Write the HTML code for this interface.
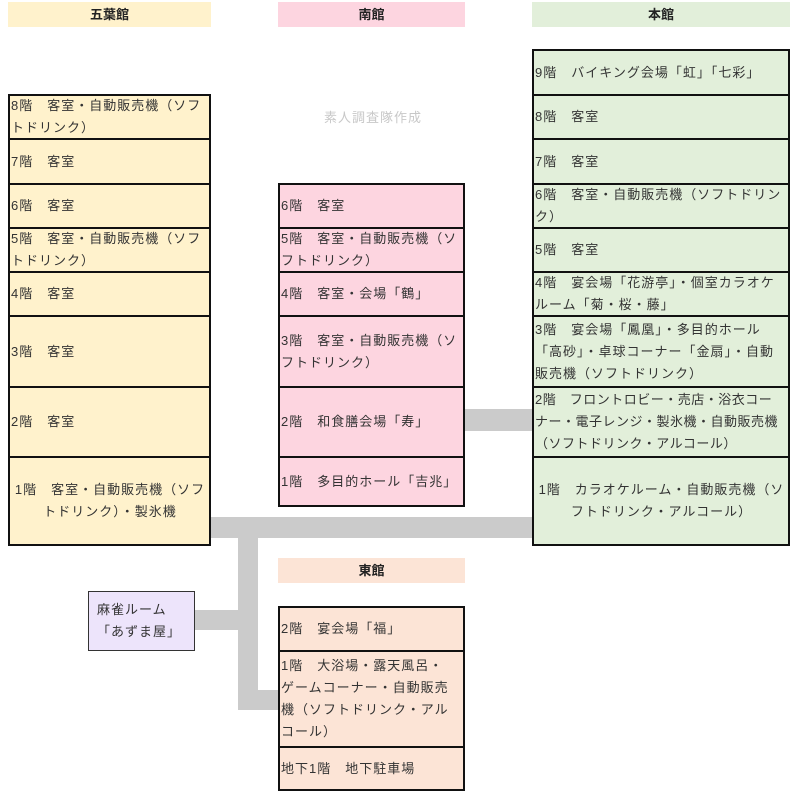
<!DOCTYPE html>
<html><head><meta charset="utf-8"><style>
body{margin:0;width:798px;height:798px;background:#fff;position:relative;overflow:hidden;font-family:"Liberation Sans","Noto Sans CJK JP",sans-serif;font-size:13px;color:#333;letter-spacing:1px}
.h{position:absolute;height:25px;line-height:25px;text-align:center;font-weight:bold;color:#222;font-size:13px;letter-spacing:0}
.c{position:absolute;box-sizing:border-box;border:2px solid #111;display:flex;align-items:center;padding:0 0 0 1px;line-height:22px;white-space:nowrap}
.cc{justify-content:center;text-align:left}
.y{background:#fff2cc}.p{background:#fdd5e0}.g{background:#e2efda}.o{background:#fce4d6}
.l{position:absolute;background:#cbcbcb}
</style></head><body>
<div class="h" style="left:8px;top:2px;width:203px;background:#fff2cc">五葉館</div>
<div class="h" style="left:278px;top:2px;width:187px;background:#fdd5e0">南館</div>
<div class="h" style="left:532px;top:2px;width:258px;background:#e2efda">本館</div>
<div class="h" style="left:278px;top:558px;width:187px;background:#fce4d6">東館</div>
<div style="position:absolute;left:324px;top:107px;color:#c8c8c8;font-size:13px">素人調査隊作成</div>

<div class="l" style="left:211px;top:517px;width:321px;height:21px"></div>
<div class="l" style="left:238px;top:538px;width:20px;height:172px"></div>
<div class="l" style="left:258px;top:690px;width:20px;height:20px"></div>
<div class="l" style="left:195px;top:610px;width:43px;height:20px"></div>
<div class="l" style="left:465px;top:409px;width:67px;height:22px"></div>

<div class="c y" style="left:8px;top:94px;width:203px;height:46px">8階　客室・自動販売機（ソフ<br>トドリンク）</div>
<div class="c y" style="left:8px;top:138px;width:203px;height:47px">7階　客室</div>
<div class="c y" style="left:8px;top:183px;width:203px;height:46px">6階　客室</div>
<div class="c y" style="left:8px;top:227px;width:203px;height:46px">5階　客室・自動販売機（ソフ<br>トドリンク）</div>
<div class="c y" style="left:8px;top:271px;width:203px;height:46px">4階　客室</div>
<div class="c y" style="left:8px;top:315px;width:203px;height:73px">3階　客室</div>
<div class="c y" style="left:8px;top:386px;width:203px;height:72px">2階　客室</div>
<div class="c y cc" style="left:8px;top:456px;width:203px;height:90px;text-align:center">1階　客室・自動販売機（ソフ<br>トドリンク）・製氷機</div>

<div class="c p" style="left:278px;top:183px;width:187px;height:46px">6階　客室</div>
<div class="c p" style="left:278px;top:227px;width:187px;height:46px">5階　客室・自動販売機（ソ<br>フトドリンク）</div>
<div class="c p" style="left:278px;top:271px;width:187px;height:46px">4階　客室・会場「鶴」</div>
<div class="c p" style="left:278px;top:315px;width:187px;height:73px">3階　客室・自動販売機（ソ<br>フトドリンク）</div>
<div class="c p" style="left:278px;top:386px;width:187px;height:72px">2階　和食膳会場「寿」</div>
<div class="c p" style="left:278px;top:456px;width:187px;height:51px">1階　多目的ホール「吉兆」</div>

<div class="c g" style="left:532px;top:49px;width:258px;height:47px">9階　バイキング会場「虹」「七彩」</div>
<div class="c g" style="left:532px;top:94px;width:258px;height:46px">8階　客室</div>
<div class="c g" style="left:532px;top:138px;width:258px;height:47px">7階　客室</div>
<div class="c g" style="left:532px;top:183px;width:258px;height:46px">6階　客室・自動販売機（ソフトドリン<br>ク）</div>
<div class="c g" style="left:532px;top:227px;width:258px;height:46px">5階　客室</div>
<div class="c g" style="left:532px;top:271px;width:258px;height:46px">4階　宴会場「花游亭」・個室カラオケ<br>ルーム「菊・桜・藤」</div>
<div class="c g" style="left:532px;top:315px;width:258px;height:73px">3階　宴会場「鳳凰」・多目的ホール<br>「高砂」・卓球コーナー「金扇」・自動<br>販売機（ソフトドリンク）</div>
<div class="c g" style="left:532px;top:386px;width:258px;height:72px;letter-spacing:0.5px">2階　フロントロビー・売店・浴衣コー<br>ナー・電子レンジ・製氷機・自動販売機<br>（ソフトドリンク・アルコール）</div>
<div class="c g cc" style="left:532px;top:456px;width:258px;height:90px;text-align:center">1階　カラオケルーム・自動販売機（ソ<br>フトドリンク・アルコール）</div>

<div class="c o" style="left:278px;top:606px;width:187px;height:46px">2階　宴会場「福」</div>
<div class="c o" style="left:278px;top:650px;width:187px;height:98px">1階　大浴場・露天風呂・<br>ゲームコーナー・自動販売<br>機（ソフトドリンク・アル<br>コール）</div>
<div class="c o" style="left:278px;top:746px;width:187px;height:45px">地下1階　地下駐車場</div>

<div class="c" style="left:88px;top:591px;width:107px;height:60px;border:1px solid #333;background:#ede4fb;padding-left:8px">麻雀ルーム<br>「あずま屋」</div>
</body></html>
